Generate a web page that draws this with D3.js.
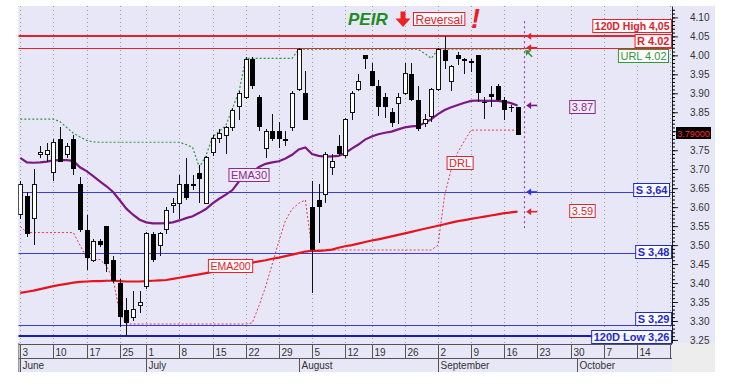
<!DOCTYPE html>
<html>
<head>
<meta charset="utf-8">
<script src="https://d3js.org/d3.v7.min.js"></script>
<style>
    html, body { margin: 0; padding: 0; background: #ffffff; }
    svg { display: block; font-family: "Liberation Sans", Arial, sans-serif; }
</style>
</head>
<body>
<svg id="chart" width="734" height="387"></svg>
<script>
// Trading sessions (2019), per month
const junDays = [3,4,5,6,7,10,11,12,13,14,17,18,19,20,21,25,26,27,28];
const julDays = [1,2,3,4,5,8,9,10,11,12,15,16,17,18,19,22,23,24,25,26,29,30,31];
const augDays = [1,2,5,6,7,8,9,12,13,14,16,19,20,21,22,23,26,27,28,29,30];
const sepDays = [2,3,4,5,6,9,10,11,12,13,16,17,18,19,20,23,24,25,26,27,30];
const octDays = [1,2,3,4,7,8,9,10,11,14,15,16,17,18,21];
const monthNames = ['June', 'July', 'August', 'September', 'October'];

// Daily candles (PEIR), June 3 -> Sep 18
const opens = [3.58,3.63,3.57,3.74,3.74,3.69,3.78,3.74,3.78,3.66,
    3.54,3.46,3.51,3.55,3.46,3.40,3.33,3.31,3.34,3.39,
    3.53,3.50,3.54,3.605,3.61,3.66,3.66,3.69,3.61,3.745,
    3.78,3.79,3.81,3.865,3.89,3.99,3.89,3.755,3.80,3.80,
    3.78,3.81,3.91,3.90,3.60,3.62,3.632,3.705,3.76,3.735,
    3.85,3.91,4.00,3.96,3.92,3.89,3.85,3.872,3.90,3.95,
    3.883,3.82,3.84,3.91,4.015,3.93,4.00,3.99,3.985,4.00,
    3.878,3.898,3.92,3.883,3.865,3.865];
const highs = [3.67,3.64,3.70,3.76,3.77,3.78,3.81,3.77,3.79,3.68,
    3.58,3.515,3.515,3.55,3.47,3.41,3.36,3.38,3.38,3.535,
    3.535,3.535,3.60,3.625,3.685,3.73,3.685,3.71,3.735,3.79,
    3.805,3.815,3.86,3.905,3.995,3.995,3.895,3.805,3.845,3.825,
    3.80,3.905,4.02,3.96,3.67,3.66,3.745,3.74,3.79,3.835,
    3.905,3.95,4.00,3.98,3.935,3.90,3.86,3.90,3.98,3.98,
    3.92,3.845,3.915,4.02,4.05,3.975,4.01,3.993,3.99,4.00,
    3.89,3.92,3.925,3.89,3.87,3.865];
const lows = [3.57,3.52,3.50,3.73,3.72,3.67,3.72,3.73,3.685,3.535,
    3.435,3.455,3.495,3.43,3.40,3.285,3.26,3.30,3.32,3.385,
    3.455,3.47,3.53,3.585,3.57,3.62,3.645,3.61,3.61,3.735,
    3.77,3.74,3.80,3.83,3.885,3.91,3.80,3.73,3.775,3.755,
    3.76,3.80,3.905,3.83,3.375,3.505,3.61,3.685,3.735,3.73,
    3.83,3.905,3.965,3.92,3.84,3.835,3.81,3.82,3.895,3.88,
    3.80,3.81,3.825,3.905,3.963,3.905,3.975,3.95,3.955,3.878,
    3.832,3.863,3.88,3.83,3.852,3.79];
const closes = [3.66,3.53,3.66,3.745,3.75,3.77,3.72,3.76,3.70,3.54,
    3.465,3.51,3.50,3.45,3.405,3.31,3.295,3.33,3.35,3.53,
    3.46,3.53,3.59,3.61,3.66,3.625,3.655,3.675,3.73,3.78,
    3.795,3.81,3.855,3.90,3.99,3.92,3.81,3.80,3.78,3.78,
    3.775,3.90,4.015,3.83,3.487,3.60,3.74,3.72,3.74,3.83,
    3.90,3.93,3.99,3.92,3.865,3.865,3.823,3.89,3.953,3.883,
    3.805,3.83,3.91,4.015,3.985,3.97,3.99,3.985,3.983,3.90,
    3.874,3.891,3.883,3.855,3.862,3.79];

// Indicators
const ema30 = [3.730,3.718,3.717,3.718,3.720,3.723,3.724,3.724,3.722,3.705,
    3.695,3.682,3.668,3.655,3.640,3.618,3.596,3.580,3.567,3.560,
    3.557,3.557,3.558,3.560,3.565,3.571,3.576,3.585,3.595,3.610,
    3.622,3.633,3.645,3.668,3.680,3.692,3.706,3.714,3.718,3.721,
    3.728,3.738,3.752,3.757,3.740,3.735,3.733,3.734,3.735,3.742,
    3.754,3.765,3.778,3.786,3.792,3.796,3.799,3.805,3.810,3.813,
    3.814,3.822,3.832,3.845,3.856,3.863,3.869,3.875,3.880,3.881,
    3.880,3.880,3.880,3.878,3.874,3.868];
const ema200 = [3.374,3.377,3.380,3.384,3.388,3.392,3.395,3.398,3.401,3.403,
    3.404,3.405,3.405,3.406,3.406,3.405,3.404,3.404,3.404,3.405,
    3.406,3.407,3.408,3.411,3.414,3.417,3.420,3.423,3.426,3.429,
    3.432,3.436,3.441,3.446,3.450,3.454,3.457,3.460,3.464,3.467,
    3.471,3.475,3.479,3.483,3.485,3.485,3.486,3.488,3.493,3.497,
    3.500,3.504,3.508,3.512,3.515,3.519,3.523,3.527,3.531,3.535,
    3.539,3.543,3.547,3.551,3.555,3.559,3.563,3.566,3.569,3.572,
    3.575,3.578,3.581,3.584,3.586,3.588];
// upper resistance line (green dotted), one session projected ahead
const urlLine = [3.832,3.832,3.832,3.832,3.832,3.832,3.825,3.810,3.795,3.785,
    3.776,3.772,3.771,3.771,3.771,3.771,3.771,3.771,3.771,3.771,
    3.771,3.771,3.771,3.771,3.771,3.765,3.757,3.705,3.735,3.785,
    3.800,3.815,3.860,3.905,3.992,3.992,3.992,3.992,3.992,3.992,
    3.992,3.992,4.016,4.016,4.016,4.016,4.016,4.016,4.016,4.016,
    4.016,4.016,4.016,4.016,4.016,4.016,4.016,4.016,4.016,4.016,
    4.016,4.005,3.992,4.016,4.016,4.016,4.016,4.016,4.016,4.016,
    4.016,4.016,4.016,4.016,4.016,4.016,4.016];
// DRL (red dotted)
const drlLine = [3.549,3.533,3.533,3.533,3.533,3.533,3.533,3.533,3.533,3.500,
    3.467,3.462,3.462,3.445,3.410,3.320,3.292,3.292,3.292,3.292,
    3.292,3.292,3.292,3.292,3.292,3.292,3.292,3.292,3.292,3.292,
    3.292,3.292,3.292,3.292,3.292,3.295,3.340,3.390,3.450,3.510,
    3.565,3.595,3.610,3.619,3.487,3.487,3.487,3.487,3.487,3.487,
    3.487,3.487,3.487,3.487,3.487,3.487,3.487,3.487,3.487,3.487,
    3.487,3.487,3.487,3.500,3.630,3.700,3.745,3.775,3.803,3.803,
    3.803,3.803,3.803,3.803,3.803,3.803];

// Horizontal levels
const levelLabels = ['120D High 4,05', 'R 4.02', 'URL 4.02', 'S 3,64', 'S 3,48', 'S 3,29', '120D Low 3,26'];
const levelValues = [4.05, 4.02, 4.02, 3.64, 3.48, 3.29, 3.26];

// Right axis
const yTickLabels = ['3.25','3.30','3.35','3.40','3.45','3.50','3.55','3.60','3.65',
    '3.70','3.75','3.80','3.85','3.90','3.95','4.00','4.05','4.10'];
const lastPrice = 3.79;

const BG = '#e7e7f8';
const plot = { left: 18.3, right: 672, top: 6, bottom: 343 };
const panelRight = 715;
const axisBottom = 372;

const svg = d3.select('#chart');

// build sessions list
const sessions = [];
[junDays, julDays, augDays, sepDays, octDays].forEach((days, m) => {
    days.forEach(d => sessions.push(new Date(2019, 5 + m, d)));
});
const weekStarts = sessions.map((dt, i) => ({ dt, i }))
    .filter(s => s.i === 0 || s.dt.getDay() < sessions[s.i - 1].getDay());
const monthStarts = sessions.map((dt, i) => ({ dt, i }))
    .filter(s => s.i === 0 || s.dt.getMonth() !== sessions[s.i - 1].getMonth());

const x = d3.scaleLinear().domain([-0.3, 98.3]).range([plot.left, plot.right]);
const y = d3.scaleLinear().domain([3.242, 4.130]).range([plot.bottom, plot.top]);

// backgrounds
svg.append('rect')
    .attr('x', plot.left).attr('y', plot.top)
    .attr('width', panelRight - plot.left).attr('height', axisBottom - plot.top)
    .attr('fill', BG);
svg.append('rect')
    .attr('x', plot.right).attr('y', plot.bottom)
    .attr('width', panelRight - plot.right).attr('height', axisBottom - plot.bottom)
    .attr('fill', '#ededed');

const defs = svg.append('defs');
defs.append('clipPath').attr('id', 'plotClip').append('rect')
    .attr('x', plot.left).attr('y', plot.top)
    .attr('width', plot.right - plot.left).attr('height', plot.bottom - plot.top);
defs.append('clipPath').attr('id', 'axisClip').append('rect')
    .attr('x', plot.left).attr('y', plot.bottom)
    .attr('width', plot.right - plot.left).attr('height', axisBottom - plot.bottom);

const g = svg.append('g').attr('clip-path', 'url(#plotClip)');

// vertical dotted grid at week starts
g.selectAll('line.grid').data(weekStarts).join('line')
    .attr('class', 'grid')
    .attr('x1', d => Math.round(x(d.i)) + 0.5).attr('x2', d => Math.round(x(d.i)) + 0.5)
    .attr('y1', plot.top).attr('y2', plot.bottom)
    .attr('stroke', '#9a9aa8').attr('stroke-width', 1)
    .attr('stroke-dasharray', '1,3');

// horizontal level lines
const levelStyle = [
    { stroke: '#e3222a', width: 2 },
    { stroke: '#e3222a', width: 1 },
    null,
    { stroke: '#3b3bd6', width: 1 },
    { stroke: '#3b3bd6', width: 1 },
    { stroke: '#3b3bd6', width: 1 },
    { stroke: '#1c1cb4', width: 2 }
];
levelValues.forEach((v, k) => {
    const st = levelStyle[k];
    if (!st) return;
    const yy = st.width === 1 ? Math.round(y(v)) + 0.5 : Math.round(y(v));
    g.append('line')
        .attr('x1', plot.left).attr('x2', plot.right)
        .attr('y1', yy).attr('y2', yy)
        .attr('stroke', st.stroke).attr('stroke-width', st.width);
});

const line = d3.line().x((d, i) => x(i)).y(d => y(d));

// dotted indicator lines
g.append('path').attr('d', line(drlLine))
    .attr('fill', 'none').attr('stroke', '#e8393d').attr('stroke-width', 1)
    .attr('stroke-dasharray', '2,2');
g.append('path').attr('d', line(urlLine))
    .attr('fill', 'none').attr('stroke', '#2f9a36').attr('stroke-width', 1.2)
    .attr('stroke-dasharray', '2,2');

// moving averages
g.append('path').attr('d', line(ema200))
    .attr('fill', 'none').attr('stroke', '#e8141c').attr('stroke-width', 2.2);
g.append('path').attr('d', line(ema30))
    .attr('fill', 'none').attr('stroke', '#7d1785').attr('stroke-width', 2.2);

// candles
const candles = opens.map((o, i) => ({ i, o, h: highs[i], l: lows[i], c: closes[i] }));
const cg = g.append('g').attr('shape-rendering', 'crispEdges');
cg.selectAll('line.wick').data(candles).join('line')
    .attr('class', 'wick')
    .attr('x1', d => Math.round(x(d.i)) + 0.5).attr('x2', d => Math.round(x(d.i)) + 0.5)
    .attr('y1', d => y(d.h)).attr('y2', d => y(d.l))
    .attr('stroke', '#111').attr('stroke-width', 1);
cg.selectAll('rect.body').data(candles).join('rect')
    .attr('class', 'body')
    .attr('x', d => Math.round(x(d.i)) - 2 + (d.c >= d.o ? 0.5 : 0))
    .attr('width', d => d.c >= d.o ? 4 : 5)
    .attr('y', d => y(Math.max(d.o, d.c)))
    .attr('height', d => Math.max(1.5, Math.abs(y(d.o) - y(d.c))))
    .attr('fill', d => d.c >= d.o ? '#ffffff' : '#000000')
    .attr('stroke', d => d.c >= d.o ? '#111' : 'none')
    .attr('stroke-width', 1);

// projection marker (dotted vertical) one session after the last candle
const nextIdx = candles.length;
g.append('line')
    .attr('x1', Math.round(x(nextIdx)) + 0.5).attr('x2', Math.round(x(nextIdx)) + 0.5)
    .attr('y1', y(4.09)).attr('y2', y(3.545))
    .attr('stroke', '#a03ca8').attr('stroke-width', 1.2)
    .attr('stroke-dasharray', '2,3');

// small arrows pointing at the projection marker
function arrow(yy, color) {
    const ax = x(nextIdx) + 2;
    svg.append('line')
        .attr('x1', ax + 3).attr('x2', ax + 11)
        .attr('y1', yy).attr('y2', yy)
        .attr('stroke', color).attr('stroke-width', 1.6);
    svg.append('path')
        .attr('d', `M${ax},${yy} L${ax + 5},${yy - 3.5} L${ax + 5},${yy + 3.5} Z`)
        .attr('fill', color);
}
arrow(y(4.05), '#e3222a');
arrow(y(4.02), '#e3222a');
arrow(y(ema30[ema30.length - 1]), '#7d1785');
arrow(y(3.64), '#2a36d8');
arrow(y(ema200[ema200.length - 1]), '#e3222a');
// green diagonal arrow for URL
{
    const ax = x(nextIdx) + 1, ay = y(4.02) + 2;
    svg.append('line')
        .attr('x1', ax + 2).attr('y1', ay + 2).attr('x2', ax + 7).attr('y2', ay + 7)
        .attr('stroke', '#2f9a36').attr('stroke-width', 1.6);
    svg.append('path')
        .attr('d', `M${ax},${ay} L${ax + 6},${ay + 1} L${ax + 1},${ay + 6} Z`)
        .attr('fill', '#2f9a36');
}

// labelled boxes
function tag(text, opts) {
    const size = opts.size || 11;
    const grp = svg.append('g');
    const t = grp.append('text')
        .attr('font-size', size)
        .attr('font-weight', opts.bold ? 'bold' : 'normal')
        .attr('fill', opts.color)
        .text(text);
    const w = t.node().getComputedTextLength();
    const bw = w + 5, bh = 13;
    let left = opts.left;
    if (opts.right !== undefined) left = opts.right - bw;
    const top = opts.cy - bh / 2;
    grp.insert('rect', 'text')
        .attr('x', left + 0.5).attr('y', Math.round(top) + 0.5)
        .attr('width', bw - 1).attr('height', bh)
        .attr('fill', opts.fill || '#ffffff').attr('fill-opacity', 0.9)
        .attr('stroke', opts.border || opts.color).attr('stroke-width', 1);
    t.attr('x', left + 2.5).attr('y', Math.round(top) + bh - 2.5);
    return grp;
}

const levelTagStyle = [
    { color: '#e3222a', bold: true, size: 10.5, dy: -11, right: plot.right },
    { color: '#e3222a', bold: true, dy: -7.5, right: plot.right },
    { color: '#2f9a36', bold: false, dy: 8, right: plot.right - 3 },
    { color: '#1f2ad0', bold: true, dy: -2, right: plot.right - 2 },
    { color: '#1f2ad0', bold: true, dy: -1, right: plot.right },
    { color: '#1f2ad0', bold: true, dy: -6.5, right: plot.right },
    { color: '#1f2ad0', bold: true, dy: 0, right: plot.right }
];
levelLabels.forEach((txt, k) => {
    const st = levelTagStyle[k];
    tag(txt, { color: st.color, bold: st.bold, size: st.size, right: st.right, cy: y(levelValues[k]) + st.dy });
});

tag('EMA30', { color: '#8a2a90', left: x(31.4), cy: y(3.687), fill: '#f3ecf8' });
tag('EMA200', { color: '#e3222a', left: x(28.3), cy: y(3.445), size: 10.5 });
tag('DRL', { color: '#e3222a', left: x(64.3), cy: y(3.717) });
tag(d3.format('.2f')(ema30[ema30.length - 1]), { color: '#8a2a90', left: x(82.8), cy: y(ema30[ema30.length - 1]) + 1, fill: '#f3ecf8' });
tag(d3.format('.2f')(ema200[ema200.length - 1]), { color: '#e3222a', left: x(82.8), cy: y(ema200[ema200.length - 1]) - 1.5 });

// title
svg.append('text')
    .attr('x', 348).attr('y', 25)
    .attr('font-size', 17).attr('font-weight', 'bold').attr('font-style', 'italic')
    .attr('fill', '#1e8c22')
    .text('PEIR');
svg.append('path')
    .attr('d', 'M400.5,11.5 L405.5,11.5 L405.5,18.5 L410.5,18.5 L403,27 L395.5,18.5 L400.5,18.5 Z')
    .attr('fill', '#ee2222');
{
    const rg = svg.append('g');
    const rt = rg.append('text')
        .attr('x', 415.5).attr('y', 23.5)
        .attr('font-size', 12).attr('fill', '#e3222a')
        .text('Reversal');
    const rw = rt.node().getComputedTextLength();
    rg.insert('rect', 'text')
        .attr('x', 413.5).attr('y', 12.5)
        .attr('width', rw + 4).attr('height', 13)
        .attr('fill', '#ffffff').attr('fill-opacity', 0.85)
        .attr('stroke', '#e3222a');
}
svg.append('text')
    .attr('x', 471).attr('y', 28)
    .attr('font-size', 27).attr('font-weight', 'bold').attr('font-style', 'italic')
    .attr('fill', '#ee1c1c')
    .text('!');

// right axis; the label hidden under the last-price box is left blank
const yAxis = d3.axisRight(y)
    .tickValues(yTickLabels.map(Number))
    .tickFormat((d, i) => Math.abs(d - lastPrice) < 0.02 ? '' : yTickLabels[i])
    .tickSize(6).tickSizeOuter(0).tickPadding(12);
const yMinor = d3.axisRight(y)
    .tickValues(d3.range(3.25, 4.125, 0.01))
    .tickFormat('').tickSize(3).tickSizeOuter(0);
const ya = svg.append('g').attr('transform', `translate(${plot.right},0)`).call(yAxis);
svg.append('g').attr('transform', `translate(${plot.right},0)`).call(yMinor)
    .select('.domain').remove();
ya.select('.domain').attr('stroke', '#222');
ya.selectAll('.tick line').attr('stroke', '#222');
ya.selectAll('.tick text')
    .attr('font-family', '"Liberation Sans", Arial, sans-serif')
    .attr('font-size', 10).attr('fill', '#333');

// last price box
{
    const pg = svg.append('g');
    pg.append('rect')
        .attr('x', 676).attr('y', Math.round(y(lastPrice)) - 8)
        .attr('width', 35).attr('height', 12)
        .attr('fill', '#000');
    pg.append('text')
        .attr('font-size', 9).attr('fill', '#ff2a2a')
        .attr('text-anchor', 'middle')
        .attr('x', 693.5).attr('y', Math.round(y(lastPrice)) + 1.5)
        .text(d3.format('.5f')(lastPrice));
}

// bottom axis (sessions)
const xa = svg.append('g').attr('clip-path', 'url(#axisClip)');
xa.append('line')
    .attr('x1', plot.left).attr('x2', plot.right)
    .attr('y1', plot.bottom + 1.5).attr('y2', plot.bottom + 1.5)
    .attr('stroke', '#555');
xa.append('line')
    .attr('x1', plot.left).attr('x2', plot.right)
    .attr('y1', 358.5).attr('y2', 358.5)
    .attr('stroke', '#555');
xa.selectAll('line.wk').data(weekStarts).join('line')
    .attr('class', 'wk')
    .attr('x1', d => Math.round(x(d.i)) + 0.5).attr('x2', d => Math.round(x(d.i)) + 0.5)
    .attr('y1', plot.bottom + 1).attr('y2', 358.5)
    .attr('stroke', '#555');
xa.selectAll('text.wk').data(weekStarts).join('text')
    .attr('class', 'wk')
    .attr('x', d => Math.round(x(d.i)) + 2.5).attr('y', 355.5)
    .attr('font-size', 10).attr('fill', '#333')
    .text(d => d.dt.getDate());
xa.selectAll('line.mo').data(monthStarts).join('line')
    .attr('class', 'mo')
    .attr('x1', d => Math.round(x(d.i)) + 0.5).attr('x2', d => Math.round(x(d.i)) + 0.5)
    .attr('y1', 358.5).attr('y2', axisBottom)
    .attr('stroke', '#555');
xa.selectAll('text.mo').data(monthStarts).join('text')
    .attr('class', 'mo')
    .attr('x', d => Math.round(x(d.i)) + 2.5).attr('y', 369)
    .attr('font-size', 10).attr('fill', '#333')
    .text(d => monthNames[d.dt.getMonth() - 5]);
svg.append('line')
    .attr('x1', plot.left + 0.5).attr('x2', plot.left + 0.5)
    .attr('y1', plot.bottom).attr('y2', axisBottom)
    .attr('stroke', '#777');
</script>
</body>
</html>
